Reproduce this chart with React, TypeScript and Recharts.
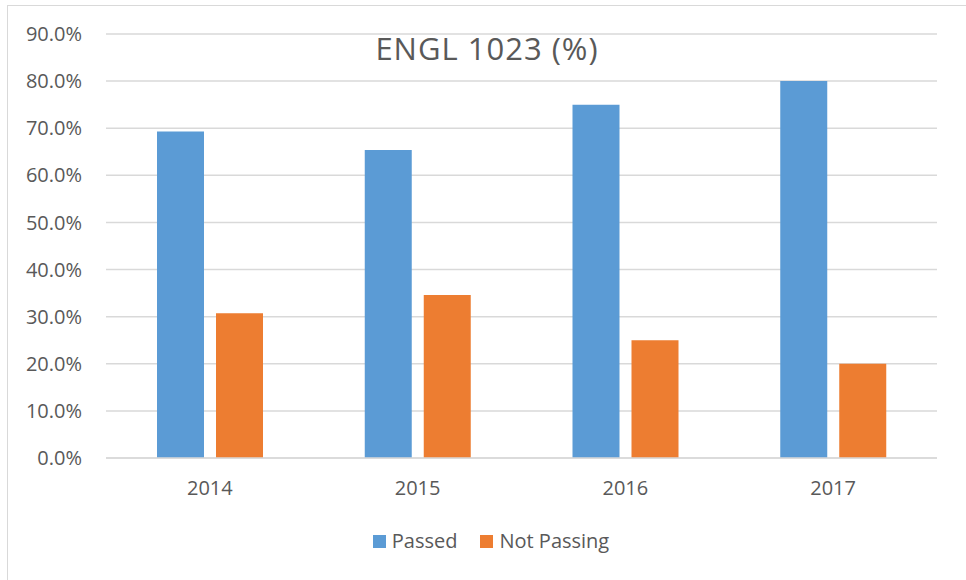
import React from "react";
import { BarChart, Bar, XAxis, YAxis, CartesianGrid, Legend } from "recharts";

const years = ["2014", "2015", "2016", "2017"];
const passed = [69.3, 65.4, 75.0, 80.0];
const notPassing = [30.7, 34.6, 25.0, 20.0];
const yTicks = [0, 10, 20, 30, 40, 50, 60, 70, 80, 90];
const title = "ENGL 1023 (%)";

const data = years.map((y, i) => ({ year: y, passed: passed[i], notPassing: notPassing[i] }));

const FONT = "'Open Sans', sans-serif";
const TEXT = "#595959";
const BLUE = "#5b9bd5";
const ORANGE = "#ed7d31";

const renderLegend = () => (
  <div
    style={{
      display: "flex",
      justifyContent: "center",
      alignItems: "center",
      fontFamily: FONT,
      fontSize: 20,
      color: TEXT,
      paddingLeft: 16,
      lineHeight: "24px",
    }}
  >
    <span style={{ display: "inline-block", width: 13, height: 13, background: BLUE, marginRight: 6 }} />
    <span style={{ marginRight: 23 }}>Passed</span>
    <span style={{ display: "inline-block", width: 13, height: 13, background: ORANGE, marginRight: 6 }} />
    <span>Not Passing</span>
  </div>
);

export default function App() {
  return (
    <div style={{ position: "absolute", left: 0, top: 0, width: 966, height: 580, background: "#fff", overflow: "hidden" }}>
      <div
        style={{
          position: "absolute",
          left: 7,
          top: 5,
          width: 1000,
          height: 600,
          border: "1px solid #d9d9d9",
          boxSizing: "border-box",
        }}
      />
      <div style={{ position: "absolute", left: 0, top: 0 }}>
        <BarChart
          width={966}
          height={580}
          data={data}
          margin={{ top: 34, right: 29, bottom: 0, left: 0 }}
          barCategoryGap={51}
          barGap={12}
        >
          <CartesianGrid vertical={false} stroke="#d9d9d9" strokeWidth={1.5} />
          <XAxis
            dataKey="year"
            axisLine={{ stroke: "#d9d9d9", strokeWidth: 1.5 }}
            tickLine={false}
            tickSize={0}
            tickMargin={23}
            height={98}
            tick={{ fill: TEXT, fontSize: 20, fontFamily: FONT }}
          />
          <YAxis
            domain={[0, 90]}
            ticks={yTicks}
            interval={0}
            axisLine={false}
            tickLine={false}
            tickSize={0}
            tickMargin={24}
            width={106}
            tickFormatter={(v: number) => `${v.toFixed(1)}%`}
            tick={{ fill: TEXT, fontSize: 20, fontFamily: FONT }}
          />
          <Legend
            content={renderLegend}
            wrapperStyle={{ position: "absolute", top: 529, left: 0, width: 966 }}
          />
          <Bar dataKey="passed" name="Passed" fill={BLUE} isAnimationActive={false} />
          <Bar dataKey="notPassing" name="Not Passing" fill={ORANGE} isAnimationActive={false} />
        </BarChart>
      </div>
      <div
        style={{
          position: "absolute",
          left: 287,
          width: 400,
          top: 28,
          textAlign: "center",
          fontFamily: FONT,
          fontSize: 31,
          letterSpacing: 1,
          color: TEXT,
          lineHeight: "40px",
        }}
      >
        {title}
      </div>
    </div>
  );
}
